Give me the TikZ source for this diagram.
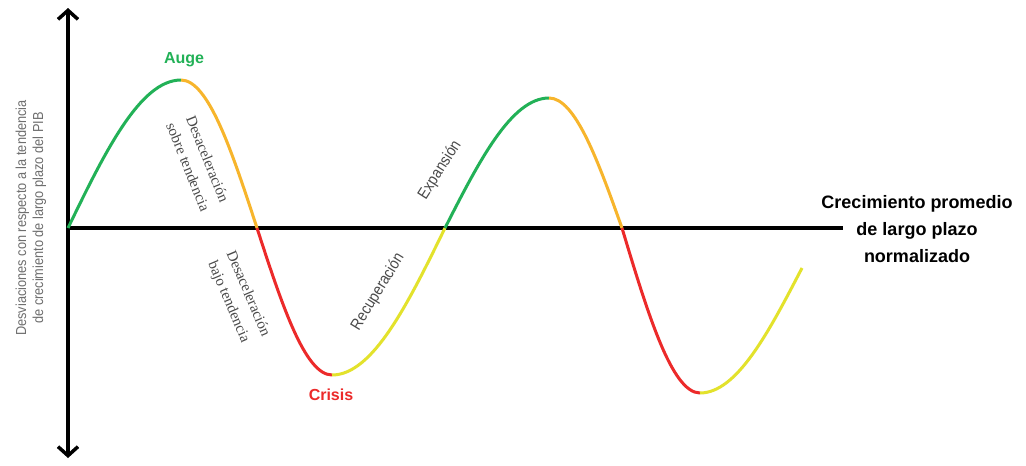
\documentclass[tikz,border=0pt]{standalone}
\usepackage{fontspec}
\setmainfont{Liberation Serif}
\newfontfamily\lsans{Liberation Sans}
\newfontfamily\nsans[FakeStretch=0.88]{Liberation Sans}
\usetikzlibrary{arrows.meta}
\definecolor{cgreen}{HTML}{22B157}
\definecolor{corange}{HTML}{F7B52C}
\definecolor{cred}{HTML}{EC2A2A}
\definecolor{cyellow}{HTML}{E3E22C}
\definecolor{lgray}{HTML}{6E6E6E}
\definecolor{dgray}{HTML}{4A4A4A}
\begin{document}
\begin{tikzpicture}[x=1pt,y=-1pt,
  axis/.style={line width=3.5pt, black},
  wave/.style={line width=3pt},
  phase/.style={text=dgray, font=\nsans\fontsize{16}{19}\selectfont},
  decel/.style={text=dgray, font=\fontsize{15}{21}\selectfont, align=center},
  keyword/.style={font=\lsans\bfseries\fontsize{16}{19}\selectfont}]
\useasboundingbox (0,0) rectangle (1026,466);
\fill[white] (0,0) rectangle (1026,466);
% points
\coordinate (o) at (68,228);
\coordinate (p1) at (181,80);
\coordinate (z1) at (257,228);
\coordinate (t1) at (332,375);
\coordinate (z2) at (445,228);
\coordinate (p2) at (549,98);
\coordinate (z3) at (622,228);
\coordinate (t2) at (700,393);
\coordinate (e) at (802,268);
\coordinate (ytop) at (68,8);
\coordinate (ybot) at (68,458);
\coordinate (xend) at (843,228);
% axes
\draw[axis, {Straight Barb[length=9pt,width=20pt]}-{Straight Barb[length=9pt,width=20pt]}] (ybot) -- (ytop);
\draw[axis] (o) -- (xend);
% wave
\draw[wave, cgreen] (o) sin (p1);
\draw[wave, corange] (p1) cos (z1);
\draw[wave, cred] (z1) sin (t1);
\draw[wave, cyellow] (t1) cos (z2);
\draw[wave, cgreen] (z2) sin (p2);
\draw[wave, corange] (p2) cos (z3);
\draw[wave, cred] (z3) sin (t2);
\draw[wave, cyellow] (t2) cos (e);
% labels
\node[keyword, text=cgreen] (auge) at (184,60) {Auge};
\node[keyword, text=cred] (crisis) at (331,395) {Crisis};
\node[font=\lsans\bfseries\fontsize{18}{27}\selectfont, align=center] (xlab) at (917,229)
  {Crecimiento promedio\\de largo plazo\\normalizado};
\node[rotate=90, text=lgray, font=\nsans\fontsize{14.5}{17}\selectfont, align=center] (ylab) at (31,218)
  {Desviaciones con respecto a la tendencia\\de crecimiento de largo plazo del PIB};
\node[decel, rotate=-68] (d1) at (198,163) {Desaceleración\\sobre tendencia};
\node[decel, rotate=-67] (d2) at (238,298) {Desaceleración\\bajo tendencia};
\node[phase, rotate=58.5] (rec) at (378,292) {Recuperación};
\node[phase, rotate=57.5] (exp) at (440,170) {Expansión};
\end{tikzpicture}
\end{document}
